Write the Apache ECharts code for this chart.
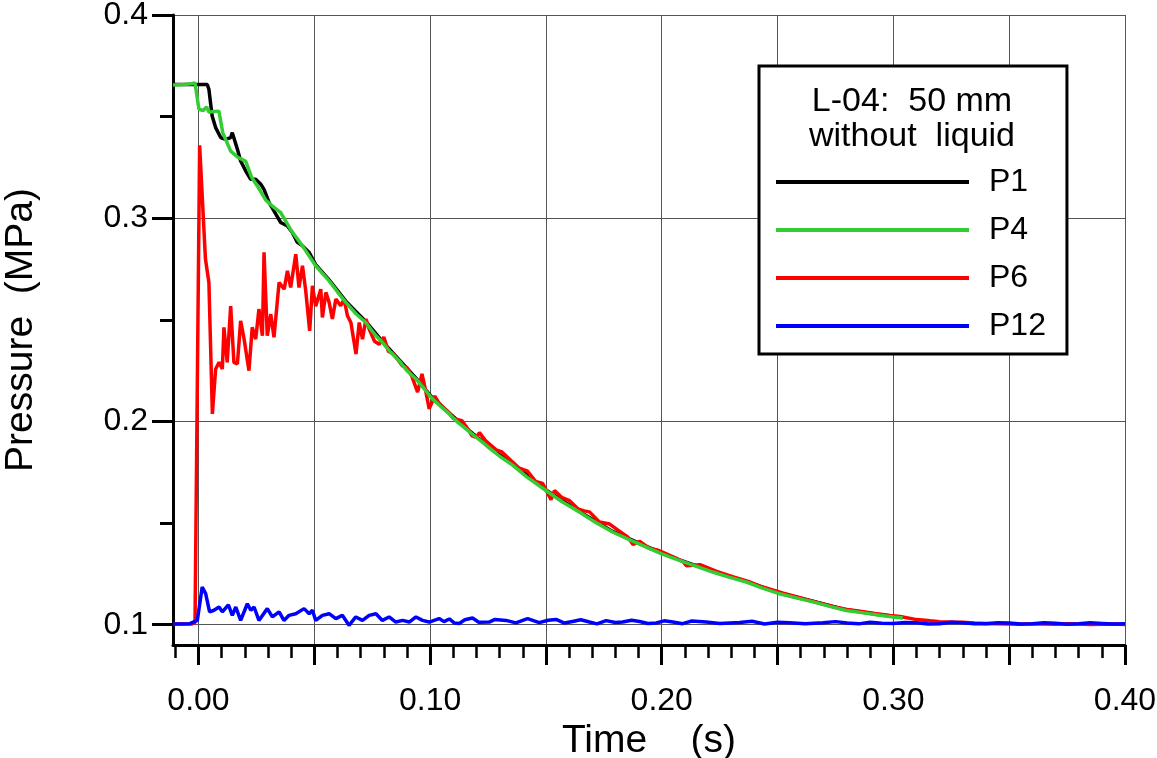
<!DOCTYPE html>
<html><head><meta charset="utf-8">
<script src="https://cdn.jsdelivr.net/npm/echarts@6/dist/echarts.min.js"></script>
<style>html,body{margin:0;padding:0;background:#fff;overflow:hidden}#c{width:1157px;height:758px}</style>
</head><body><div id="c"></div>
<script>
// ---- data ----
var p1T = [-0.011,0.0038,0.0045,0.0059,0.0074,0.0096,0.0117,0.0139,0.0146,0.0157,0.0168,0.0182,0.0204,0.0225,0.0247,0.0269,0.0283,0.0305,0.0334,0.0355,0.0384,0.0405,0.0427,0.0449,0.0478,0.0506,0.0564,0.0636,0.0722,0.0794,0.0866,0.0939,0.101,0.1083,0.1155,0.1226,0.1299,0.1356,0.15,0.1644,0.1788,0.1933,0.2076,0.222,0.2365,0.2509,0.2653,0.2797,0.2941,0.3041];
var p1V = [0.3658,0.3658,0.3634,0.3503,0.3446,0.3397,0.3388,0.3397,0.3421,0.338,0.3339,0.3282,0.3232,0.3192,0.3192,0.3167,0.3142,0.3077,0.302,0.2979,0.2962,0.293,0.2881,0.2864,0.2831,0.2772,0.2697,0.2592,0.2492,0.2394,0.2304,0.2213,0.2116,0.2041,0.1967,0.1902,0.1836,0.1793,0.1663,0.1557,0.1459,0.1385,0.1319,0.1262,0.1213,0.1155,0.1115,0.1073,0.1049,0.1035];

var p4T = [-0.011,-0.006,-0.003,-0.0015,0.0002,0.002,0.0035,0.0045,0.0065,0.0088,0.0105,0.0139,0.0170,0.0204,0.0230,0.0254,0.0290,0.0319,0.0355,0.0400,0.0449,0.0506,0.0564,0.0600,0.0636,0.0680,0.0722,0.0760,0.0794,0.0830,0.0866,0.0900,0.0939,0.0975,0.101,0.1045,0.1083,0.1120,0.1155,0.1190,0.1226,0.1260,0.1299,0.1356,0.1420,0.15,0.157,0.1644,0.1715,0.1788,0.186,0.1933,0.2,0.2076,0.215,0.222,0.229,0.2365,0.2435,0.2509,0.258,0.2653,0.2725,0.2797,0.287,0.2941,0.3,0.3041];
var p4V = [0.3655,0.3658,0.3662,0.3665,0.3536,0.353,0.3548,0.3522,0.3525,0.3527,0.3420,0.333,0.330,0.328,0.320,0.3159,0.309,0.306,0.3028,0.294,0.2864,0.2766,0.2692,0.2638,0.2586,0.2530,0.2487,0.2430,0.2389,0.2340,0.2299,0.2250,0.2209,0.2160,0.2111,0.2075,0.2037,0.1995,0.1963,0.1930,0.1898,0.1865,0.1830,0.1785,0.1725,0.166,0.1605,0.1554,0.1503,0.1456,0.1418,0.1382,0.1348,0.1316,0.1287,0.1259,0.1234,0.121,0.118,0.1152,0.1132,0.1112,0.109,0.107,0.1058,0.1046,0.1038,0.1033];

var p6T = [-0.011,-0.003,-0.0015,0.0005,0.0030,0.0045,0.006,0.0074,0.0089,0.0103,0.0110,0.0124,0.0139,0.0153,0.0168,0.0182,0.0197,0.0218,0.0232,0.0247,0.0261,0.0276,0.0283,0.0297,0.0312,0.0326,0.0348,0.037,0.0384,0.0398,0.042,0.0434,0.0449,0.0463,0.048,0.0492,0.0506,0.0528,0.0535,0.055,0.0564,0.0578,0.0593,0.0614,0.0629,0.0643,0.0658,0.068,0.0694,0.0708,0.0723,0.0737,0.076,0.078,0.080,0.082,0.084,0.086,0.088,0.090,0.092,0.0946,0.0965,0.098,0.0996,0.102,0.1036,0.106,0.108,0.110,0.1137,0.1165,0.118,0.1199,0.1213,0.124,0.1285,0.131,0.1342,0.137,0.1385,0.1421,0.1455,0.1486,0.1522,0.1537,0.157,0.1602,0.1638,0.1665,0.1688,0.1731,0.1775,0.1811,0.1854,0.1876,0.1905,0.1948,0.198,0.202,0.2065,0.2092,0.2107,0.2165,0.2237,0.2309,0.2381,0.2424,0.2475,0.2525,0.2597,0.2669,0.2741,0.28,0.2856,0.292,0.2986,0.3029,0.3101,0.316,0.32,0.326,0.33,0.335,0.34,0.345,0.35,0.355,0.36,0.365,0.37,0.375,0.38,0.385,0.39,0.395,0.40];
var p6V = [0.1003,0.1003,0.101,0.3359,0.28,0.2684,0.2037,0.2258,0.2291,0.2258,0.2463,0.2291,0.2567,0.2291,0.2283,0.2495,0.2405,0.225,0.2463,0.2405,0.2553,0.2422,0.2832,0.2422,0.2528,0.2414,0.2684,0.2651,0.2741,0.2659,0.2823,0.2659,0.2766,0.2643,0.2446,0.2667,0.2567,0.2651,0.2512,0.2635,0.2586,0.2504,0.2602,0.2569,0.2602,0.252,0.2487,0.2332,0.2487,0.2405,0.2504,0.2455,0.2395,0.238,0.2415,0.2345,0.2335,0.2305,0.2274,0.2265,0.2225,0.2144,0.2234,0.2155,0.2062,0.2125,0.2094,0.2065,0.2045,0.2015,0.2004,0.196,0.193,0.1922,0.1945,0.1905,0.186,0.185,0.1815,0.1785,0.177,0.1755,0.1705,0.1695,0.1615,0.166,0.1625,0.161,0.157,0.156,0.1555,0.1505,0.1495,0.1465,0.143,0.1395,0.141,0.1375,0.1368,0.1348,0.1325,0.131,0.129,0.1295,0.1262,0.1235,0.121,0.119,0.1172,0.1155,0.1133,0.111,0.1088,0.1075,0.1066,0.1055,0.1045,0.104,0.1025,0.1019,0.1015,0.1013,0.1012,0.1008,0.1006,0.1004,0.1003,0.1002,0.1005,0.1003,0.1002,0.1004,0.1003,0.1001,0.1002,0.1003,0.1001];

var p12T = [-0.011,-0.004,-0.0005,0.0016,0.0031,0.0048,0.0067,0.0089,0.0103,0.0129,0.0146,0.0161,0.0182,0.0211,0.0226,0.024,0.0261,0.0297,0.0319,0.0348,0.0369,0.0391,0.042,0.0456,0.0478,0.0492,0.0506,0.0535,0.0564,0.0593,0.0621,0.065,0.0679,0.0708,0.0737,0.0766,0.0794,0.0823,0.0852,0.0881,0.091,0.0939,0.0967,0.0996,0.1039,0.106,0.1083,0.1105,0.1126,0.115,0.1183,0.121,0.1255,0.128,0.1328,0.137,0.1421,0.1471,0.151,0.1544,0.158,0.1615,0.165,0.1688,0.172,0.176,0.18,0.1831,0.187,0.1904,0.194,0.1976,0.201,0.2048,0.209,0.213,0.2192,0.225,0.2336,0.239,0.2444,0.25,0.2552,0.262,0.2696,0.275,0.28,0.285,0.29,0.295,0.30,0.305,0.31,0.315,0.32,0.325,0.33,0.335,0.34,0.345,0.35,0.355,0.36,0.365,0.37,0.375,0.38,0.385,0.39,0.395,0.40];
var p12V = [0.1003,0.1004,0.1021,0.1185,0.1153,0.1063,0.1071,0.1087,0.1063,0.1098,0.1046,0.1087,0.1021,0.1103,0.1071,0.1087,0.1021,0.1079,0.1038,0.1063,0.1021,0.1046,0.1054,0.1079,0.1054,0.1071,0.1021,0.1046,0.1054,0.103,0.1046,0.0997,0.1038,0.1021,0.1046,0.1054,0.1021,0.1038,0.1013,0.1021,0.1013,0.1038,0.1021,0.1013,0.103,0.1015,0.1028,0.1008,0.1006,0.1024,0.1033,0.1012,0.1013,0.1026,0.1021,0.1009,0.103,0.101,0.1022,0.1026,0.1008,0.1016,0.1024,0.1013,0.1004,0.102,0.1011,0.1013,0.1022,0.1016,0.1006,0.1008,0.1019,0.1013,0.1005,0.1018,0.1013,0.1006,0.1011,0.1017,0.1003,0.1012,0.101,0.1004,0.101,0.1015,0.1008,0.1004,0.1012,0.1007,0.1006,0.1011,0.101,0.1003,0.1005,0.1012,0.1009,0.1004,0.1004,0.101,0.1008,0.1003,0.1005,0.1009,0.1007,0.1002,0.1004,0.1009,0.1006,0.1003,0.1005,0.1008,0.1005];

var seriesNames = ['P1','P4','P6','P12'];
var xMajorTicks = [0,0.05,0.10,0.15,0.20,0.25,0.30,0.35,0.40];
var xLabelTicks = [0,0.10,0.20,0.30,0.40];
var xMinorTicks = [-0.01,0.01,0.02,0.03,0.04,0.06,0.07,0.08,0.09,0.11,0.12,0.13,0.14,0.16,0.17,0.18,0.19,0.21,0.22,0.23,0.24,0.26,0.27,0.28,0.29,0.31,0.32,0.33,0.34,0.36,0.37,0.38,0.39];
var yMajorTicks = [0.1,0.2,0.3,0.4];
var yMinorTicks = [0.15,0.25,0.35];
var legendTitle = ['L-04:  50 mm','without  liquid'];

function zip(t, v){ return t.map(function(x,i){ return [x, v[i]]; }); }

var FONT = '"Liberation Sans", Arial, sans-serif';
var chart = echarts.init(document.getElementById('c'), null, {renderer:'canvas'});
var xBase = {type:'value', min:-0.011, max:0.40, gridIndex:0, position:'bottom'};
var yBase = {type:'value', min:0.09, max:0.40, gridIndex:0, position:'left'};
chart.setOption({
  animation:false,
  backgroundColor:'#fff',
  grid:{left:173, right:32, top:15, bottom:113, containLabel:false, outerBoundsMode:'none'},
  xAxis:[
    Object.assign({}, xBase, {
      name:'Time    (s)', nameLocation:'middle', nameGap:68,
      nameTextStyle:{fontSize:39, color:'#000', fontFamily:FONT},
      axisLine:{show:true, onZero:false, lineStyle:{color:'#000', width:3}},
      axisTick:{show:true, customValues:xMajorTicks, length:20, lineStyle:{color:'#000', width:3}},
      axisLabel:{show:true, customValues:xLabelTicks, margin:40, fontSize:32, color:'#000', fontFamily:FONT,
        formatter:function(v){return v.toFixed(2);}},
      splitLine:{show:true, lineStyle:{color:'#555', width:1}}
    }),
    Object.assign({}, xBase, {
      axisLine:{show:false, onZero:false},
      axisTick:{show:true, customValues:xMinorTicks, length:13, lineStyle:{color:'#000', width:2.5}},
      axisLabel:{show:false}, splitLine:{show:false}
    })
  ],
  yAxis:[
    Object.assign({}, yBase, {
      name:'Pressure  (MPa)', nameLocation:'middle', nameGap:132, nameRotate:90,
      nameTextStyle:{fontSize:39, color:'#000', fontFamily:FONT},
      axisLine:{show:true, onZero:false, lineStyle:{color:'#000', width:3}},
      axisTick:{show:true, customValues:yMajorTicks, length:21, lineStyle:{color:'#000', width:3}},
      axisLabel:{show:true, customValues:yMajorTicks, margin:25, fontSize:32, color:'#000', fontFamily:FONT,
        formatter:function(v){return v.toFixed(1);}},
      splitLine:{show:true, lineStyle:{color:'#555', width:1}}
    }),
    Object.assign({}, yBase, {
      axisLine:{show:false, onZero:false},
      axisTick:{show:true, customValues:yMinorTicks, length:13, lineStyle:{color:'#000', width:3}},
      axisLabel:{show:false}, splitLine:{show:false}
    })
  ],
  legend:{
    data:seriesNames, orient:'vertical', left:759, top:66,
    icon:'rect', itemWidth:193, itemHeight:4, itemGap:16,
    textStyle:{fontSize:32, color:'#000', fontFamily:FONT, lineHeight:31, padding:[0,0,0,15]},
    padding:[100,21,12,17], borderColor:'#000', borderWidth:3, backgroundColor:'#fff'
  },
  graphic:[
    {type:'text', x:912, y:102, z:100, style:{text:legendTitle[0], font:'34px '+FONT, fill:'#000', textAlign:'center', textVerticalAlign:'middle'}},
    {type:'text', x:912, y:137, z:100, style:{text:legendTitle[1], font:'34px '+FONT, fill:'#000', textAlign:'center', textVerticalAlign:'middle'}}
  ],
  series:[
    {name:'P1', type:'line', data:zip(p1T,p1V), showSymbol:false, color:'#000', lineStyle:{width:3.5, color:'#000'}},
    {name:'P6', type:'line', data:zip(p6T,p6V), showSymbol:false, color:'#ff0000', lineStyle:{width:3.5, color:'#ff0000'}},
    {name:'P12', type:'line', data:zip(p12T,p12V), showSymbol:false, color:'#0000ff', lineStyle:{width:3.5, color:'#0000ff'}},
    {name:'P4', type:'line', data:zip(p4T,p4V), showSymbol:false, color:'#33cc33', lineStyle:{width:3.5, color:'#33cc33'}}
  ]
});
</script></body></html>
